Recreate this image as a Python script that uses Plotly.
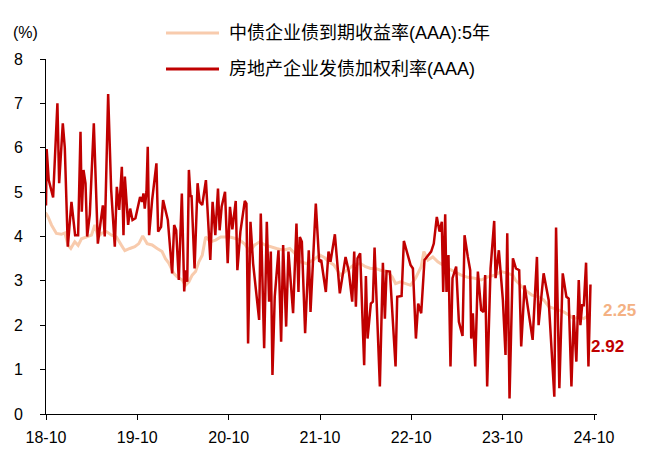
import pandas as pd
import plotly.graph_objects as go

# ---------------- data (time in decimal years) ----------------
series_names = ["中债企业债到期收益率(AAA):5年", "房地产企业发债加权利率(AAA)"]

orange_t = [2018.742, 2018.771, 2018.808, 2018.862, 2018.917, 2018.954, 2018.990, 2019.020,
            2019.063, 2019.100, 2019.137, 2019.191, 2019.246, 2019.283, 2019.319, 2019.356,
            2019.411, 2019.466, 2019.520, 2019.575, 2019.612, 2019.667, 2019.721, 2019.765,
            2019.808, 2019.856, 2019.911, 2019.966, 2020.020, 2020.057, 2020.093, 2020.148,
            2020.185, 2020.240, 2020.276, 2020.313, 2020.349, 2020.386, 2020.422, 2020.459,
            2020.496, 2020.550, 2020.605, 2020.660, 2020.715, 2020.759, 2020.814, 2020.869,
            2020.923, 2020.978, 2021.033, 2021.088, 2021.143, 2021.198, 2021.271, 2021.344,
            2021.417, 2021.472, 2021.527, 2021.600, 2021.673, 2021.746, 2021.800, 2021.845,
            2021.900, 2021.973, 2022.046, 2022.119, 2022.192, 2022.247, 2022.302, 2022.357,
            2022.411, 2022.484, 2022.539, 2022.576, 2022.631, 2022.685, 2022.740, 2022.795,
            2022.857, 2022.886, 2022.930, 2022.984, 2023.039, 2023.094, 2023.149, 2023.222,
            2023.295, 2023.368, 2023.441, 2023.514, 2023.588, 2023.661, 2023.734, 2023.807,
            2023.862, 2023.888, 2023.942, 2023.997, 2024.070, 2024.143, 2024.198, 2024.253,
            2024.308, 2024.363, 2024.418, 2024.472, 2024.527, 2024.582, 2024.637, 2024.710]
orange_v = [4.54, 4.44, 4.26, 4.07, 4.05, 4.08, 3.80, 3.73,
            3.88, 3.80, 3.95, 3.99, 4.03, 4.26, 3.99, 4.07,
            4.11, 4.03, 3.99, 3.80, 3.68, 3.73, 3.77, 3.84,
            4.01, 3.84, 3.81, 3.73, 3.66, 3.50, 3.40, 3.17,
            3.09, 3.02, 2.90, 2.98, 3.13, 3.21, 3.43, 3.58,
            3.99, 3.88, 3.92, 3.99, 3.99, 3.99, 3.96, 3.92,
            3.83, 3.66, 3.81, 3.88, 3.81, 3.77, 3.73, 3.69,
            3.73, 3.62, 3.43, 3.39, 3.47, 3.58, 3.52, 3.43,
            3.36, 3.13, 3.24, 3.36, 3.39, 3.32, 3.28, 3.28,
            3.24, 3.21, 3.09, 2.94, 2.98, 2.94, 2.90, 3.06,
            3.32, 3.66, 3.47, 3.54, 3.43, 3.36, 3.28, 3.21,
            3.13, 3.08, 3.06, 3.02, 3.09, 3.13, 3.21, 3.17,
            3.13, 3.02, 2.90, 2.79, 2.68, 2.64, 2.57, 2.42,
            2.38, 2.34, 2.30, 2.23, 2.15, 2.19, 2.15, 2.25]

red_t = [2018.748, 2018.755, 2018.778, 2018.826, 2018.873, 2018.892, 2018.932, 2018.954,
         2018.987, 2019.027, 2019.067, 2019.100, 2019.126, 2019.140, 2019.159, 2019.181,
         2019.199, 2019.228, 2019.272, 2019.316, 2019.349, 2019.371, 2019.392, 2019.429,
         2019.462, 2019.502, 2019.524, 2019.550, 2019.579, 2019.597, 2019.612, 2019.648,
         2019.670, 2019.696, 2019.728, 2019.779, 2019.801, 2019.816, 2019.830, 2019.849,
         2019.863, 2019.878, 2019.911, 2019.958, 2019.977, 2020.009, 2020.031, 2020.083,
         2020.130, 2020.152, 2020.174, 2020.203, 2020.236, 2020.262, 2020.276, 2020.295,
         2020.313, 2020.331, 2020.342, 2020.375, 2020.408, 2020.430, 2020.459, 2020.499,
         2020.547, 2020.572, 2020.602, 2020.631, 2020.649, 2020.671, 2020.708, 2020.737,
         2020.762, 2020.788, 2020.825, 2020.843, 2020.876, 2020.924, 2020.942, 2020.960,
         2020.986, 2021.015, 2021.081, 2021.099, 2021.136, 2021.165, 2021.190, 2021.209,
         2021.227, 2021.252, 2021.293, 2021.322, 2021.344, 2021.377, 2021.402, 2021.453,
         2021.490, 2021.512, 2021.527, 2021.549, 2021.585, 2021.625, 2021.644, 2021.702,
         2021.739, 2021.761, 2021.812, 2021.841, 2021.863, 2021.911, 2021.965, 2022.028,
         2022.064, 2022.101, 2022.123, 2022.141, 2022.159, 2022.188, 2022.232, 2022.251,
         2022.269, 2022.305, 2022.327, 2022.346, 2022.404, 2022.437, 2022.459, 2022.477,
         2022.514, 2022.576, 2022.594, 2022.642, 2022.667, 2022.740, 2022.766, 2022.799,
         2022.824, 2022.857, 2022.893, 2022.966, 2022.995, 2023.028, 2023.058, 2023.083,
         2023.098, 2023.120, 2023.134, 2023.156, 2023.178, 2023.200, 2023.240, 2023.270,
         2023.310, 2023.332, 2023.368, 2023.394, 2023.405, 2023.423, 2023.449, 2023.478,
         2023.514, 2023.540, 2023.558, 2023.580, 2023.617, 2023.657, 2023.672, 2023.708,
         2023.752, 2023.781, 2023.800, 2023.825, 2023.862, 2023.895, 2023.931, 2023.953,
         2023.990, 2024.034, 2024.078, 2024.125, 2024.143, 2024.198, 2024.253, 2024.315,
         2024.334, 2024.370, 2024.407, 2024.447, 2024.472, 2024.502, 2024.527, 2024.556,
         2024.582, 2024.600, 2024.619, 2024.637, 2024.662, 2024.688, 2024.710]
red_v = [4.70, 5.97, 5.27, 4.88, 7.00, 5.20, 6.55, 6.00,
         3.77, 4.78, 4.03, 4.03, 6.36, 4.56, 5.50, 5.20,
         4.00, 4.50, 6.55, 3.84, 4.37, 4.70, 4.00, 7.21,
         5.05, 3.77, 5.12, 4.60, 5.57, 4.03, 5.35, 4.26,
         4.63, 4.37, 4.41, 4.89, 4.78, 4.97, 4.63, 5.01,
         6.02, 4.03, 4.82, 5.65, 4.11, 4.22, 4.82, 4.37,
         3.17, 4.26, 4.14, 3.02, 4.97, 2.76, 3.24, 2.98,
         5.50, 4.89, 4.93, 3.28, 5.20, 4.78, 4.71, 5.27,
         3.47, 4.78, 4.03, 5.08, 4.14, 4.67, 5.01, 3.40,
         4.67, 4.16, 4.80, 3.24, 4.11, 4.80, 4.74, 1.59,
         4.33, 3.39, 2.12, 4.52, 1.48, 4.33, 2.53, 3.66,
         0.88, 2.64, 3.69, 1.63, 3.81, 1.97, 3.66, 2.27,
         4.29, 2.75, 3.99, 3.88, 1.82, 3.69, 2.30, 4.74,
         3.43, 3.47, 2.75, 3.66, 3.43, 4.05, 2.72, 3.54,
         3.21, 2.53, 3.66, 2.42, 3.51, 3.62, 1.10, 3.11,
         1.70, 2.49, 2.53, 3.75, 0.62, 3.41, 2.15, 3.22,
         3.21, 1.07, 2.64, 2.66, 3.90, 3.36, 3.28, 1.70,
         2.49, 2.27, 3.47, 3.66, 3.84, 4.44, 4.11, 4.33,
         2.75, 4.50, 2.75, 3.58, 1.07, 3.06, 3.32, 2.08,
         1.76, 4.03, 3.54, 3.24, 1.70, 2.27, 1.07, 3.21,
         2.34, 2.30, 3.13, 0.62, 3.28, 4.35, 3.06, 3.69,
         2.57, 1.33, 4.07, 0.35, 3.51, 3.28, 3.24, 1.52,
         2.90, 2.27, 1.67, 3.54, 2.00, 3.17, 2.57, 0.39,
         4.20, 0.58, 3.17, 2.64, 2.60, 0.62, 2.23, 1.18,
         3.02, 2.00, 2.45, 2.45, 3.41, 1.07, 2.92]

tick_dates = ["2018-10-01", "2019-10-01", "2020-10-01", "2021-10-01",
              "2022-10-01", "2023-10-01", "2024-10-01"]
tick_labels = ["18-10", "19-10", "20-10", "21-10", "22-10", "23-10", "24-10"]
y_ticks = [0, 1, 2, 3, 4, 5, 6, 7, 8]

last_labels = ["2.25", "2.92"]


def to_dates(ts):
    out = []
    for t in ts:
        y = int(t)
        start = pd.Timestamp(year=y, month=1, day=1)
        ndays = (pd.Timestamp(year=y + 1, month=1, day=1) - start).days
        out.append(start + pd.Timedelta(days=(t - y) * ndays))
    return out


ORANGE_LINE = "#F8CBAD"
ORANGE_TEXT = "#F4B183"
RED = "#C00000"
FONT = "Arial, 'Liberation Sans', 'Noto Sans CJK SC', sans-serif"

fig = go.Figure()
fig.add_trace(go.Scatter(x=to_dates(orange_t), y=orange_v, mode="lines",
                         name=series_names[0],
                         line=dict(color=ORANGE_LINE, width=3)))
fig.add_trace(go.Scatter(x=to_dates(red_t), y=red_v, mode="lines",
                         name=series_names[1],
                         line=dict(color=RED, width=2.5)))

fig.update_layout(
    width=656, height=450,
    margin=dict(l=46, r=59, t=59, b=36),
    paper_bgcolor="white", plot_bgcolor="white",
    showlegend=False,
    font=dict(family=FONT, size=16, color="black"),
)
fig.update_xaxes(
    type="date", range=["2018-10-01", "2024-10-13"],
    tickvals=tick_dates, ticktext=tick_labels,
    showline=True, linecolor="black", linewidth=1,
    ticks="outside", ticklen=5, tickcolor="black",
    showgrid=False, zeroline=False, ticklabelstandoff=4,
    automargin=False,
)
fig.update_yaxes(
    range=[0, 8], tickvals=y_ticks,
    showline=True, linecolor="black", linewidth=1,
    ticks="outside", ticklen=5, tickcolor="black",
    showgrid=False, zeroline=False, ticklabelstandoff=14,
    automargin=False,
)

# unit label
fig.add_annotation(text="(%)", xref="paper", yref="paper", x=-0.038, y=1.076,
                   xanchor="center", yanchor="middle", showarrow=False,
                   font=dict(size=16, color="black"))

# manual legend
legend_rows = [(1.073, ORANGE_LINE, series_names[0]), (0.972, RED, series_names[1])]
for ypos, col, name in legend_rows:
    fig.add_shape(type="line", xref="paper", yref="paper",
                  x0=0.2178, x1=0.314, y0=ypos, y1=ypos,
                  line=dict(color=col, width=3))
    fig.add_annotation(text=name, xref="paper", yref="paper", x=0.3285, y=ypos,
                       xanchor="left", yanchor="middle", showarrow=False,
                       font=dict(size=18, color="black"))

# end labels
fig.add_annotation(text="<b>%s</b>" % last_labels[0], xref="paper", yref="y",
                   x=1.008, y=2.34, xanchor="left", yanchor="middle",
                   showarrow=False, font=dict(size=17, color=ORANGE_TEXT))
fig.add_annotation(text="<b>%s</b>" % last_labels[1], xref="paper", yref="y",
                   x=0.985, y=1.51, xanchor="left", yanchor="middle",
                   showarrow=False, font=dict(size=17, color=RED))

fig.write_html("out.html", config={"displayModeBar": False},
               post_script="document.body.style.margin='0';document.body.style.padding='0';")
